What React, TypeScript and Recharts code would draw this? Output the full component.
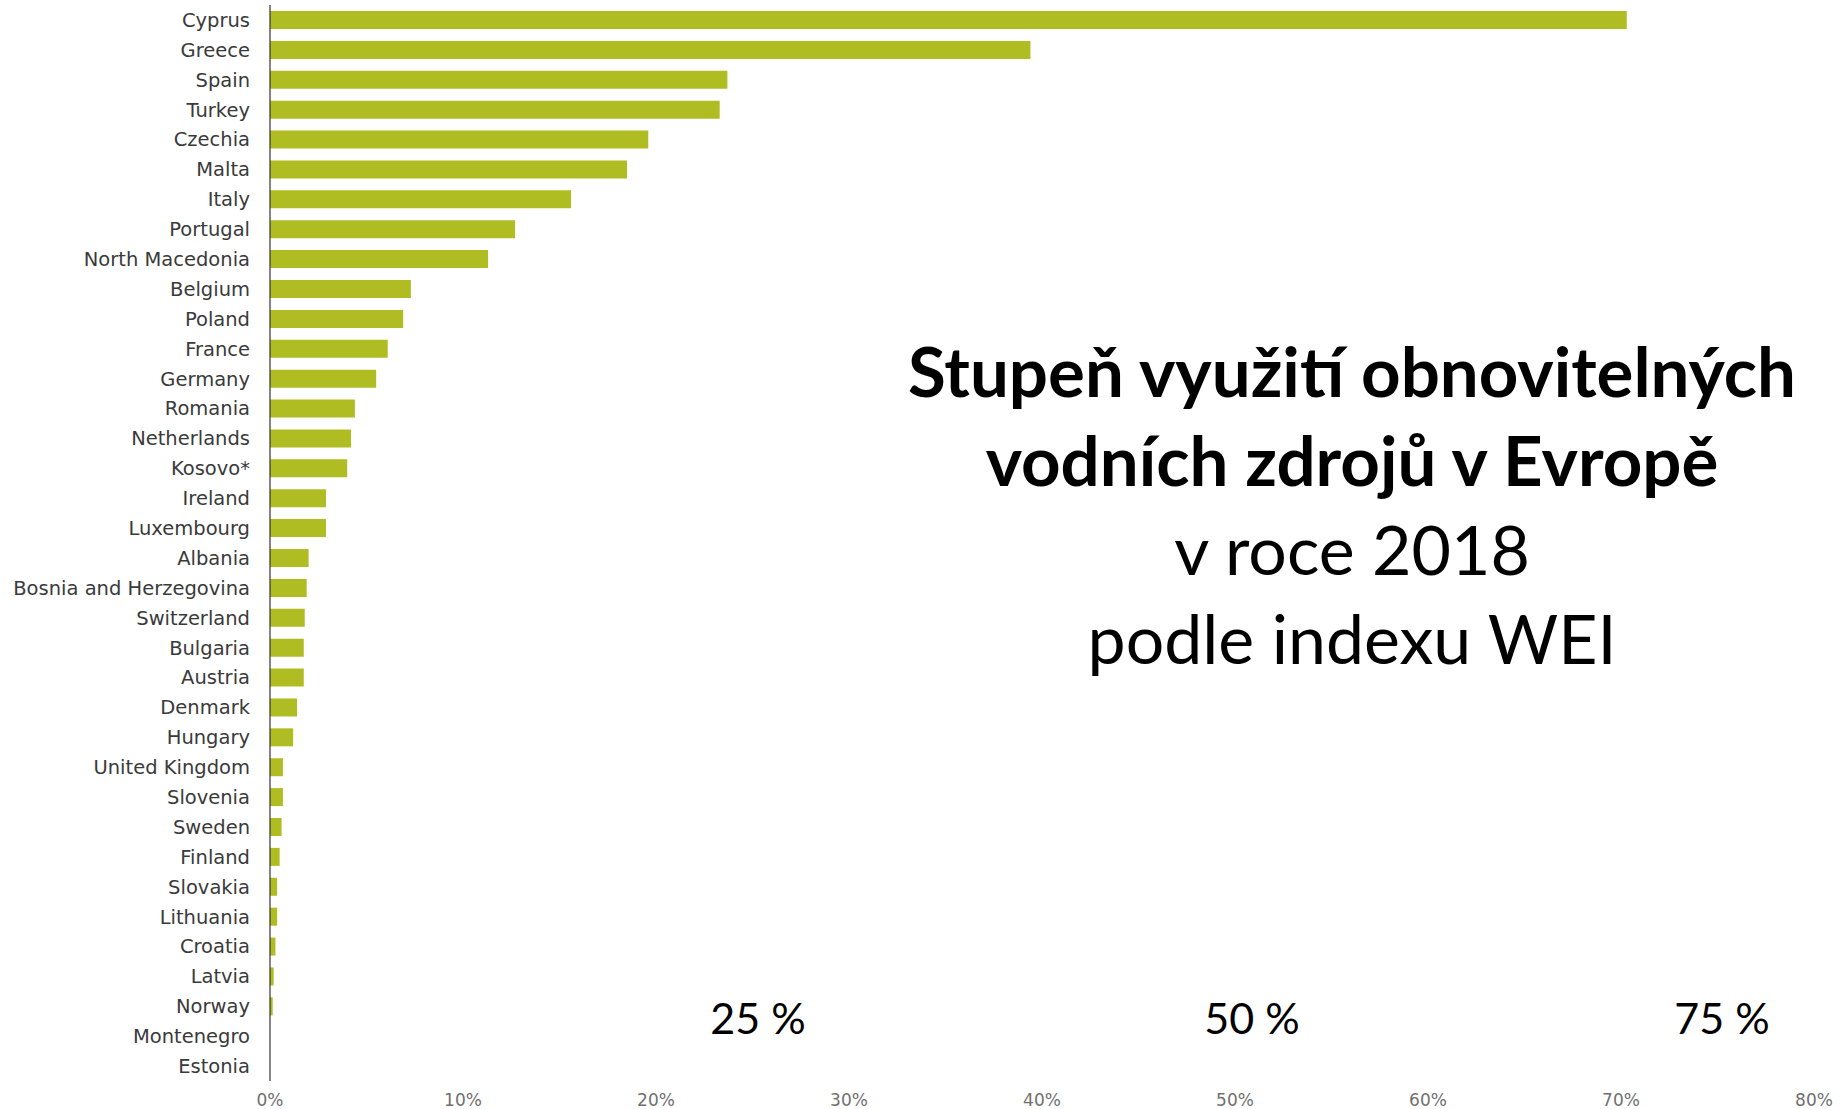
import React from 'react';
import { BarChart, Bar, XAxis, YAxis } from 'recharts';

// Water exploitation index (WEI+), 2018, % of renewable freshwater resources
const countries = [
  'Cyprus', 'Greece', 'Spain', 'Turkey', 'Czechia', 'Malta', 'Italy', 'Portugal',
  'North Macedonia', 'Belgium', 'Poland', 'France', 'Germany', 'Romania',
  'Netherlands', 'Kosovo*', 'Ireland', 'Luxembourg', 'Albania',
  'Bosnia and Herzegovina', 'Switzerland', 'Bulgaria', 'Austria', 'Denmark',
  'Hungary', 'United Kingdom', 'Slovenia', 'Sweden', 'Finland', 'Slovakia',
  'Lithuania', 'Croatia', 'Latvia', 'Norway', 'Montenegro', 'Estonia',
];

const wei = [
  70.3, 39.4, 23.7, 23.3, 19.6, 18.5, 15.6, 12.7,
  11.3, 7.3, 6.9, 6.1, 5.5, 4.4,
  4.2, 4.0, 2.9, 2.9, 2.0,
  1.9, 1.8, 1.75, 1.75, 1.4,
  1.2, 0.67, 0.67, 0.6, 0.5, 0.37,
  0.37, 0.28, 0.19, 0.14, 0, 0,
];

const xTicks = [0, 10, 20, 30, 40, 50, 60, 70, 80];

const titleBold = ['Stupeň využití obnovitelných', 'vodních zdrojů v Evropě'];
const titleRegular = ['v roce 2018', 'podle indexu WEI'];
const markers = ['25 %', '50 %', '75 %'];
const markerX = [758, 1252, 1722];

const data = countries.map((name, i) => ({ name, wei: wei[i] }));

const App: React.FC = () => {
  return (
    <div style={{ position: 'absolute', left: 0, top: 0, width: 1845, height: 1109, background: '#fff' }}>
      <BarChart
        width={1845}
        height={1109}
        data={data}
        layout="vertical"
        margin={{ top: 5, right: 31, bottom: 0, left: 0 }}
        barSize={18}
      >
        <XAxis
          type="number"
          domain={[0, 80]}
          ticks={xTicks}
          tickFormatter={(v) => `${v}%`}
          axisLine={false}
          tickLine={false}
          tickSize={6}
          tickMargin={7}
          height={28}
          interval={0}
          tick={{ fill: '#707070', fontSize: 17, fontFamily: 'DejaVu Sans' }}
        />
        <YAxis
          type="category"
          dataKey="name"
          width={270}
          interval={0}
          tickLine={false}
          tickSize={6}
          tickMargin={14}
          axisLine={{ stroke: '#333', strokeWidth: 1.2 }}
          tick={{ fill: '#3a3a3a', fontSize: 19.5, fontFamily: 'DejaVu Sans' }}
        />
        <Bar dataKey="wei" fill="#afbd22" isAnimationActive={false} />
      </BarChart>

      <div
        style={{
          position: 'absolute',
          left: 852,
          top: 326,
          width: 1000,
          textAlign: 'center',
          fontFamily: 'Lato',
          color: '#000',
          lineHeight: '89px',
        }}
      >
        {titleBold.map((t) => (
          <div key={t} style={{ fontWeight: 700, fontSize: 69 }}>{t}</div>
        ))}
        {titleRegular.map((t) => (
          <div key={t} style={{ fontWeight: 400, fontSize: 68 }}>{t}</div>
        ))}
      </div>

      {markers.map((m, i) => (
        <div
          key={m}
          style={{
            position: 'absolute',
            left: markerX[i] - 100,
            top: 990,
            width: 200,
            textAlign: 'center',
            fontFamily: 'Lato',
            fontSize: 43,
            lineHeight: '56px',
            color: '#000',
          }}
        >
          {m}
        </div>
      ))}
    </div>
  );
};

export default App;
